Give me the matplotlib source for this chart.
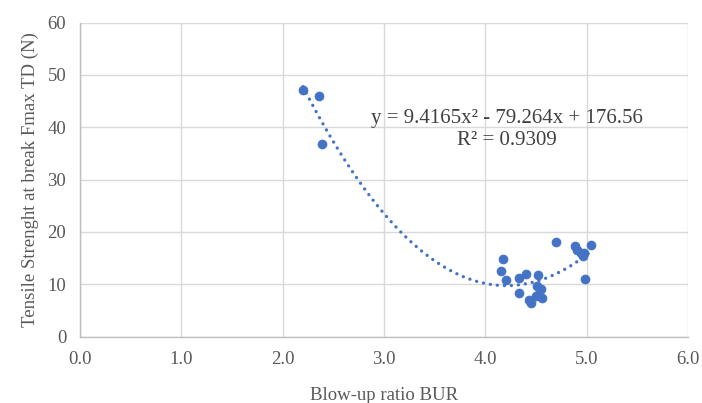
import numpy as np
import matplotlib
matplotlib.use("Agg")
import matplotlib.pyplot as plt

# blow-up ratio vs tensile strength (TD)
bur = [2.20, 2.36, 2.39,
       4.17, 4.15, 4.20, 4.33, 4.40, 4.52, 4.33, 4.43, 4.45,
       4.51, 4.55, 4.52, 4.56, 4.50,
       4.70, 4.89, 4.90, 4.94, 4.96, 4.97, 5.04, 4.98]
fmax = [47.1, 46.0, 36.8,
        14.8, 12.5, 10.8, 11.2, 12.0, 11.7, 8.3, 7.1, 6.4,
        9.6, 9.2, 8.0, 7.4, 7.7,
        18.0, 17.3, 16.6, 15.9, 15.4, 16.0, 17.6, 11.1]

# polynomial trendline as printed on the chart
trend_coef = [9.4165, -79.264, 176.56]
trend_label = "y = 9.4165x\u00b2 - 79.264x + 176.56\nR\u00b2 = 0.9309"

xticks = [0, 1, 2, 3, 4, 5, 6]
yticks = [0, 10, 20, 30, 40, 50, 60]

blue = "#4472C4"
grey = "#595959"
plt.rcParams['font.family'] = ['Liberation Serif', 'DejaVu Serif']

fig = plt.figure(figsize=(7.02, 4.03), dpi=100)
ax = fig.add_axes([0.114, 0.1645, 0.866, 0.7795])

xs = np.linspace(min(bur), max(bur), 200)
ax.plot(xs, np.polyval(trend_coef, xs), color=blue, lw=2.4,
        linestyle=(0, (0.01, 2.1)), dash_capstyle="round", zorder=2)
ax.scatter(bur, fmax, s=42, color=blue, edgecolors=blue, linewidths=0.5, zorder=3)

ax.set_xlim(0, 6)
ax.set_ylim(0, 60)
ax.set_xticks(xticks)
ax.set_xticklabels(["%.1f" % t for t in xticks])
ax.set_yticks(yticks)
ax.grid(True, color="#d9d9d9", lw=1.0)
ax.set_axisbelow(True)
ax.tick_params(length=0, labelsize=13.5, labelcolor=grey, pad=10)
for side in ["top", "right"]:
    ax.spines[side].set_visible(False)
for side in ["left", "bottom"]:
    ax.spines[side].set_color("#bfbfbf")
    ax.spines[side].set_linewidth(1.0)

ax.set_xlabel("Blow-up ratio BUR", fontsize=13.5, color=grey, labelpad=14)
ax.set_ylabel("Tensile Strenght at break Fmax TD (N)", fontsize=13.5, color=grey, labelpad=6)

ax.text(4.215, 39.6, trend_label, ha="center", va="center", fontsize=15,
        color="#404040", linespacing=1.2)

fig.savefig("out.png", dpi=100)
